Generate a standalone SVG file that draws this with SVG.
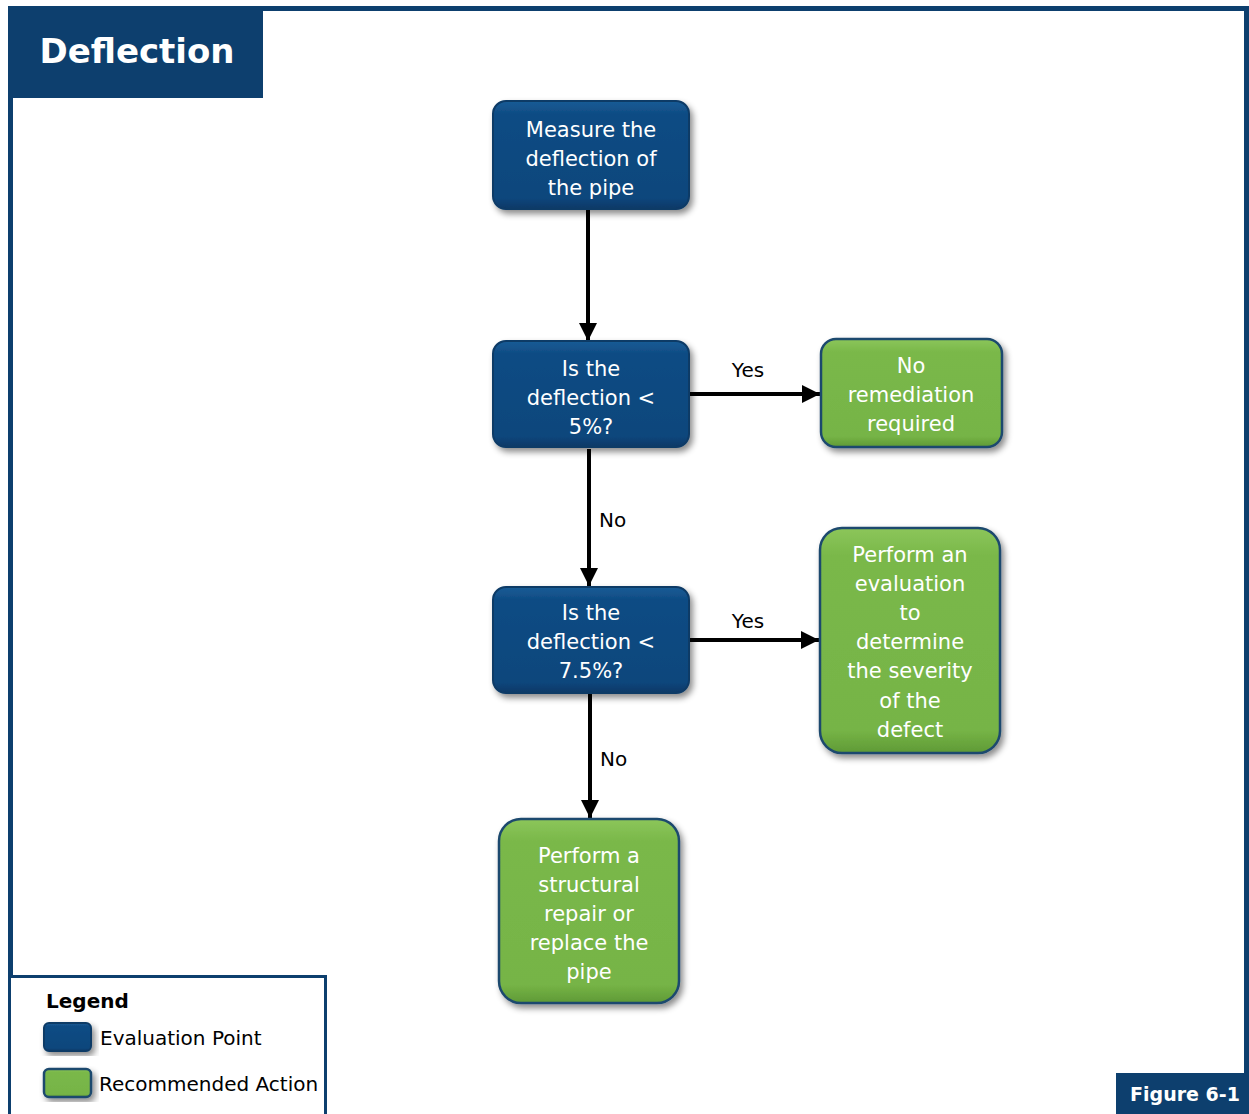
<svg xmlns="http://www.w3.org/2000/svg" width="1249" height="1114" viewBox="0 0 1249 1114">
<defs>
<linearGradient id="gBlue" x1="0" y1="0" x2="0" y2="1">
<stop offset="0" stop-color="#1a5c96"/>
<stop offset="0.12" stop-color="#0f4c84"/>
<stop offset="0.9" stop-color="#0c467c"/>
<stop offset="1" stop-color="#083866"/>
</linearGradient>
<linearGradient id="gGreen" x1="0" y1="0" x2="0" y2="1">
<stop offset="0" stop-color="#8cc65a"/>
<stop offset="0.12" stop-color="#7ab84a"/>
<stop offset="0.9" stop-color="#76b446"/>
<stop offset="1" stop-color="#5f9a36"/>
</linearGradient>
<filter id="sh" x="-10%" y="-10%" width="125%" height="125%">
<feDropShadow dx="3" dy="4" stdDeviation="3" flood-color="#000" flood-opacity="0.45"/>
</filter>
<marker id="arr" markerUnits="userSpaceOnUse" markerWidth="22" markerHeight="22" viewBox="0 0 22 22" refX="20" refY="11" orient="auto">
<path d="M2,2 L20,11 L2,20 Z" fill="#000"/>
</marker>
<style>
.blue{fill:url(#gBlue);stroke:#0a3a66;stroke-width:2;filter:url(#sh)}
.green{fill:url(#gGreen);stroke:#1d4a6e;stroke-width:2.5;filter:url(#sh)}
.nt{font-family:"DejaVu Sans",sans-serif;font-size:21px;fill:#fff;text-anchor:middle}
.lbl{font-family:"DejaVu Sans",sans-serif;font-size:20px;fill:#000}
.edge{stroke:#000;stroke-width:4;fill:none;marker-end:url(#arr)}
</style>
</defs>
<rect width="1249" height="1114" fill="#fff"/>
<path d="M10.5,1114 V8.5 H1246.5 V1114" fill="none" stroke="#0d3f6e" stroke-width="5"/>
<g id="title">
<rect x="8" y="6" width="255" height="92" fill="#0d3f6e"/>
<text x="137" y="63" font-family="DejaVu Sans,sans-serif" font-weight="bold" font-size="34" fill="#fff" text-anchor="middle">Deflection</text>
</g>
<g id="connectors">
<line class="edge" x1="588" y1="210" x2="588" y2="341"/>
<line class="edge" x1="589" y1="449" x2="589" y2="586"/>
<line class="edge" x1="590" y1="694" x2="590" y2="818"/>
<line class="edge" x1="690" y1="394" x2="820" y2="394"/>
<line class="edge" x1="690" y1="640" x2="819" y2="640"/>
<text class="lbl" x="748" y="377" text-anchor="middle">Yes</text>
<text class="lbl" x="599" y="527">No</text>
<text class="lbl" x="748" y="628" text-anchor="middle">Yes</text>
<text class="lbl" x="600" y="766">No</text>
</g>
<g id="measure">
<rect class="blue" x="493" y="101" width="196" height="108" rx="13"/>
<text class="nt" x="591" y="137">Measure the</text>
<text class="nt" x="591" y="166">deflection of</text>
<text class="nt" x="591" y="195">the pipe</text>
</g>
<g id="q5">
<rect class="blue" x="493" y="341" width="196" height="106" rx="13"/>
<text class="nt" x="591" y="376">Is the</text>
<text class="nt" x="591" y="405">deflection &lt;</text>
<text class="nt" x="591" y="434">5%?</text>
</g>
<g id="noremed">
<rect class="green" x="821" y="339" width="181" height="108" rx="15"/>
<text class="nt" x="911" y="373">No</text>
<text class="nt" x="911" y="402">remediation</text>
<text class="nt" x="911" y="431">required</text>
</g>
<g id="q75">
<rect class="blue" x="493" y="587" width="196" height="106" rx="13"/>
<text class="nt" x="591" y="620">Is the</text>
<text class="nt" x="591" y="649">deflection &lt;</text>
<text class="nt" x="591" y="678">7.5%?</text>
</g>
<g id="evaluate">
<rect class="green" x="820" y="528" width="180" height="225" rx="22"/>
<text class="nt" x="910" y="562">Perform an</text>
<text class="nt" x="910" y="591">evaluation</text>
<text class="nt" x="910" y="620">to</text>
<text class="nt" x="910" y="649">determine</text>
<text class="nt" x="910" y="678">the severity</text>
<text class="nt" x="910" y="708">of the</text>
<text class="nt" x="910" y="737">defect</text>
</g>
<g id="repair">
<rect class="green" x="499" y="819" width="180" height="184" rx="22"/>
<text class="nt" x="589" y="863">Perform a</text>
<text class="nt" x="589" y="892">structural</text>
<text class="nt" x="589" y="921">repair or</text>
<text class="nt" x="589" y="950">replace the</text>
<text class="nt" x="589" y="979">pipe</text>
</g>
<g id="legend">
<rect x="9.5" y="976.5" width="316" height="140" fill="#fff" stroke="#0d3f6e" stroke-width="3"/>
<text x="46" y="1008" font-family="DejaVu Sans,sans-serif" font-weight="bold" font-size="20" fill="#000">Legend</text>
<rect class="blue" x="44" y="1023" width="47" height="28" rx="5"/>
<text class="lbl" x="100" y="1045">Evaluation Point</text>
<rect class="green" x="44" y="1069" width="47" height="28" rx="5"/>
<text class="lbl" x="99" y="1091">Recommended Action</text>
</g>
<g id="figure">
<rect x="1116" y="1073" width="133" height="41" fill="#0d3f6e"/>
<text x="1185" y="1101" font-family="DejaVu Sans,sans-serif" font-weight="bold" font-size="19" fill="#fff" text-anchor="middle">Figure 6-1</text>
</g>
</svg>
